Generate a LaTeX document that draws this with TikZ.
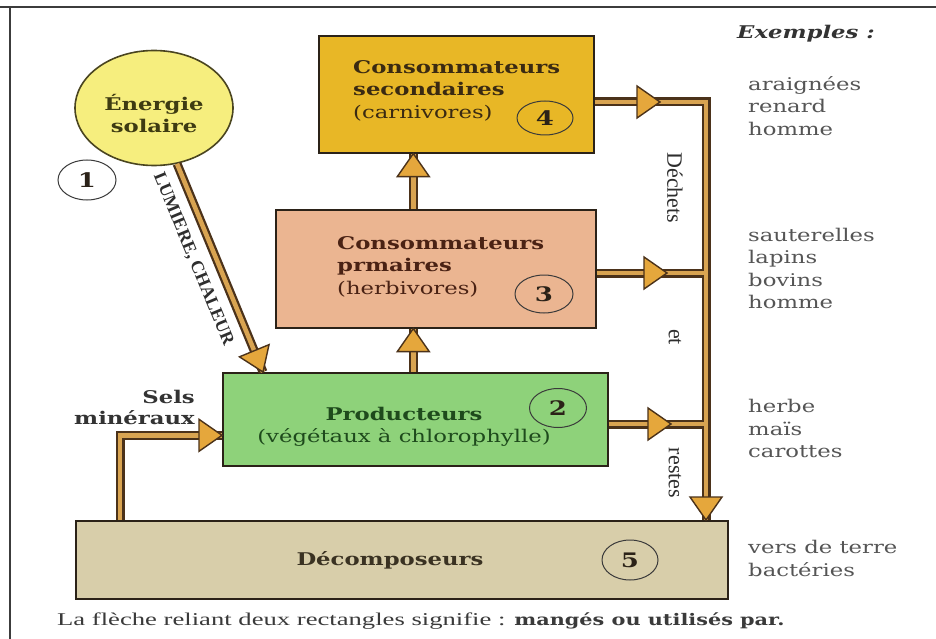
\documentclass[tikz,border=0pt]{standalone}
\usepackage{fontspec}
\usetikzlibrary{calc,shapes.geometric}
\newfontfamily\schfont{DejaVu Serif}[FakeStretch=1.3]
\newfontfamily\capfont{Liberation Serif}[FakeStretch=1.48]
\newfontfamily\lblfont{Liberation Serif}

\definecolor{sunfill}{HTML}{F6EE7E}
\definecolor{sunline}{HTML}{4A4520}
\definecolor{suntext}{HTML}{3E3B12}
\definecolor{goldbox}{HTML}{E8B726}
\definecolor{peachbox}{HTML}{EBB591}
\definecolor{greenbox}{HTML}{8ED27A}
\definecolor{beigebox}{HTML}{D8CEAA}
\definecolor{boxline}{HTML}{2B2218}
\definecolor{pipeout}{HTML}{4B321A}
\definecolor{pipein}{HTML}{D9A451}
\definecolor{headfill}{HTML}{E5A73C}
\definecolor{txtbrown}{HTML}{3A2A12}
\definecolor{txtred}{HTML}{4A2214}
\definecolor{txtgreen}{HTML}{1E4A1C}
\definecolor{txtdec}{HTML}{3A3222}
\definecolor{ovalline}{HTML}{3A3A3A}
\definecolor{exgray}{HTML}{555555}
\definecolor{labelc}{HTML}{2E2E2E}
\definecolor{captc}{HTML}{3A3A3A}
\definecolor{darktext}{HTML}{333333}
\definecolor{framec}{HTML}{3C3C3C}

\tikzset{
  boxshape/.style={draw=boxline, line width=1.6pt, anchor=north west, inner sep=0pt},
  boxtext/.style={font=\schfont\fontsize{17.5}{22.5}\selectfont, align=left, inner sep=0pt, anchor=north west},
  numoval/.style={ellipse, draw=ovalline, line width=1pt, inner sep=0pt,
    font=\schfont\bfseries\fontsize{20}{20}\selectfont, text=boxline},
  pipe/.style={draw=pipein, line width=4.5pt, preaction={draw=pipeout, line width=9pt}},
  head/.pic={\filldraw[fill=headfill, draw=pipeout, line width=1.4pt, line join=miter]
    (0,0) -- (-23,16) -- (-23,-16) -- cycle;},
  sidelabel/.style={font=\lblfont\fontsize{22}{22}\selectfont, rotate=-90, text=labelc, inner sep=0pt},
  example/.style={font=\schfont\fontsize{17.5}{22.5}\selectfont, align=left, inner sep=0pt,
    anchor=north west, text=exgray},
}

\begin{document}
\begin{tikzpicture}[x=1pt,y=-1pt]
\useasboundingbox (0,0) rectangle (936,639);
\fill[white] (0,0) rectangle (936,639);

% page frame
\draw[framec, line width=1.8pt] (0,7) -- (936,7);
\draw[framec, line width=1.8pt] (10,7) -- (10,639);

% sun
\node[ellipse, draw=sunline, line width=1.6pt, fill=sunfill, minimum width=158pt,
  minimum height=115pt, inner sep=0pt] (sun) at (154,108) {};
\node[align=center, inner sep=0pt, font=\schfont\bfseries\fontsize{17.5}{22}\selectfont,
  text=suntext] (suntxt) at (154,114) {Énergie\\solaire};

% trophic levels
\node[boxshape, fill=goldbox,  minimum width=275pt, minimum height=117pt] (c4)  at (318,35) {};
\node[boxshape, fill=peachbox, minimum width=320pt, minimum height=118pt] (c3)  at (275,209) {};
\node[boxshape, fill=greenbox, minimum width=385pt, minimum height=93pt]  (c2)  at (222,372) {};
\node[boxshape, fill=beigebox, minimum width=652pt, minimum height=78pt]  (dec) at (75,520) {};

\node[boxtext, text=txtbrown] (t4) at (353,60) {\textbf{Consommateurs}\\\textbf{secondaires}\\(carnivores)};
\node[boxtext, text=txtred] (t3) at (337,236) {\textbf{Consommateurs}\\\textbf{prmaires}\\(herbivores)};
\node[boxtext, align=center, anchor=center, text=txtgreen] (t2) at (404,427) {\textbf{Producteurs}\\(végétaux à chlorophylle)};
\node[boxtext, anchor=center, text=txtdec] (t5) at (390,560) {\textbf{Décomposeurs}};

% level numbers
\node[numoval, minimum width=58pt, minimum height=40pt, fill=white] (n1) at (87,180) {1};
\node[numoval, minimum width=56pt, minimum height=34pt] (n4) at (545,118) {4};
\node[numoval, minimum width=58pt, minimum height=38pt] (n3) at (544,294) {3};
\node[numoval, minimum width=57pt, minimum height=39pt] (n2) at (558,408) {2};
\node[numoval, minimum width=56pt, minimum height=40pt] (n5) at (630,560) {5};

% labels
\node[font=\schfont\bfseries\fontsize{17.5}{21}\selectfont, align=right, anchor=north east,
  inner sep=0pt, text=darktext] (sels) at (195,390) {Sels\\minéraux};
\node[font=\schfont\bfseries\itshape\fontsize{17.5}{20}\selectfont, anchor=north west,
  inner sep=0pt, text=darktext] (exh) at (737,25) {Exemples :};
\node[example] (ex4) at (748,76)  {araignées\\renard\\homme};
\node[example] (ex3) at (748,228) {sauterelles\\lapins\\bovins\\homme};
\node[example] (ex2) at (748,399) {herbe\\maïs\\carottes};
\node[example] (ex5) at (748,540) {vers de terre\\bactéries};

\node[sidelabel] (dech) at (675,188) {Déchets};
\node[sidelabel] (et)   at (675,337) {et};
\node[sidelabel] (rest) at (675,473) {restes};

\node[anchor=base west, inner sep=0pt, text=captc] (cap) at (57,625)
  {\capfont\fontsize{18}{18}\selectfont La flèche reliant deux rectangles signifie : \schfont\bfseries\fontsize{16}{16}\selectfont mangés ou utilisés par.};

% connectors
\coordinate (jx) at (706,0);
\coordinate (lt) at (263,372);
\draw[pipe] (c4.east |- 0,102) -| (jx |- dec.north)
            (c3.east |- 0,273) -- (jx |- 0,273)
            (c2.east |- 0,424) -- (jx |- 0,424);
\draw[pipe] (c2.north |- 0,0) ++(-2,0) coordinate (vx) (vx |- c2.north) -- (vx |- c3.south);
\draw[pipe] (vx |- c3.north) -- (vx |- c4.south);
\draw[pipe] (dec.north -| 120,0) |- ([yshift=-16pt]c2.west);
\draw[pipe] (sun) -- (lt);
\path (sun) -- (lt) node[pos=0.42, sloped, below=13pt, inner sep=1pt,
  font=\lblfont\bfseries\fontsize{18}{18}\selectfont, text=labelc] (lum) {LUMIERE, CHALEUR};

% arrow heads
\pic[rotate=90] at (vx |- c3.south) {head};
\pic[rotate=90] at (vx |- c4.south) {head};
\pic at ([yshift=-16pt]c2.west) {head};
\pic[rotate=-67.6] at (lt) {head};
\pic at (660,102) {head};
\pic at (667,273) {head};
\pic at (671,424) {head};
\pic[rotate=-90] at (jx |- dec.north) {head};
\end{tikzpicture}
\end{document}
